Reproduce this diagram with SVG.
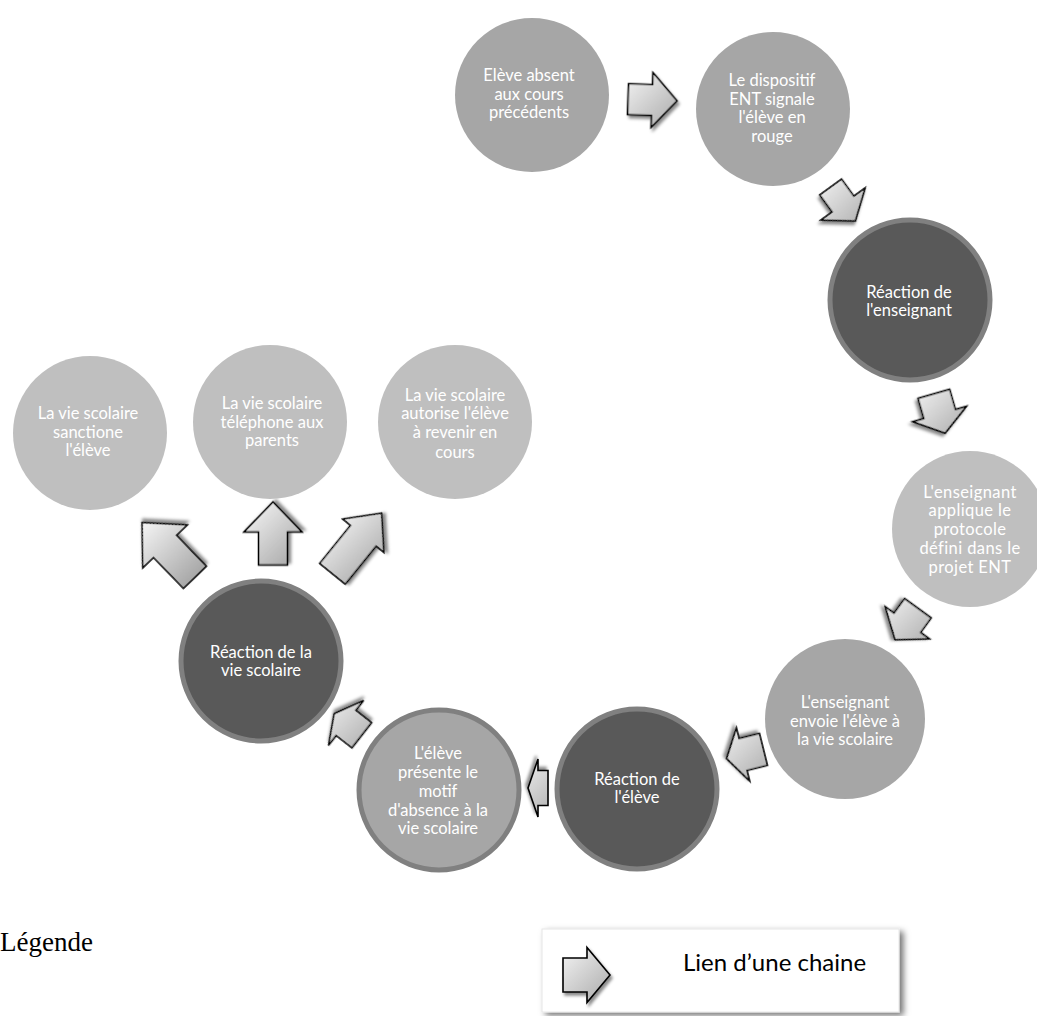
<svg xmlns="http://www.w3.org/2000/svg" width="1037" height="1016" viewBox="0 0 1037 1016">
<style>
.c1{fill:#a6a6a6}
.c2{fill:#bfbfbf}
.cd{fill:#595959;stroke:#808080;stroke-width:5}
.cm{fill:#a6a6a6;stroke:#808080;stroke-width:5}
.t{font-family:Lato,"Liberation Sans",sans-serif;font-size:16.5px;fill:#ffffff;text-anchor:middle}
.arr{stroke:#000;stroke-width:1.6;stroke-linejoin:miter;filter:url(#sh)}
</style>
<defs>
<linearGradient id="g" gradientUnits="userSpaceOnUse" x1="-26" y1="-26" x2="26" y2="26">
<stop offset="0" stop-color="#f4f4f4"/>
<stop offset="1" stop-color="#a9a9a9"/>
</linearGradient>
<linearGradient id="g1" href="#g" gradientTransform="rotate(-2)"/>
<linearGradient id="g2" href="#g" gradientTransform="rotate(-54)"/>
<linearGradient id="g3" href="#g" gradientTransform="rotate(-74)"/>
<linearGradient id="g4" href="#g" gradientTransform="rotate(-126)"/>
<linearGradient id="g5" href="#g" gradientTransform="rotate(-166)"/>
<linearGradient id="g6" href="#g" gradientTransform="rotate(-180)"/>
<linearGradient id="g7" href="#g" gradientTransform="rotate(142)"/>
<linearGradient id="g8" href="#g" gradientTransform="rotate(134)"/>
<linearGradient id="g9" href="#g" gradientTransform="rotate(90)"/>
<linearGradient id="g10" href="#g" gradientTransform="rotate(51)"/>
<filter id="sh" x="-30%" y="-30%" width="160%" height="160%">
<feDropShadow dx="2" dy="3" stdDeviation="1.8" flood-color="#000" flood-opacity="0.45"/>
</filter>
<filter id="bs" x="-10%" y="-20%" width="125%" height="150%">
<feDropShadow dx="4" dy="3" stdDeviation="3" flood-color="#000" flood-opacity="0.55"/>
</filter>
</defs>
<rect width="1037" height="1016" fill="#ffffff"/>

<g id="connectors">
<polygon class="arr" fill="url(#g1)" transform="translate(652.5,100) rotate(2)" points="-24.5,-15.5 -0.5,-15.5 -0.5,-27.5 24.5,0 -0.5,27.5 -0.5,15.5 -24.5,15.5"/>
<polygon class="arr" fill="url(#g2)" transform="translate(843,204) rotate(54)" points="-21,-13.5 0,-13.5 0,-27.5 21,0 0,27.5 0,13.5 -21,13.5"/>
<polygon class="arr" fill="url(#g3)" transform="translate(939.5,413.5) rotate(74)" points="-20.5,-16.5 0.5,-16.5 0.5,-28 20.5,0 0.5,28 0.5,16.5 -20.5,16.5"/>
<polygon class="arr" fill="url(#g4)" transform="translate(906.5,624) rotate(126)" points="-19.5,-16.5 -1.5,-16.5 -1.5,-27.5 19.5,0 -1.5,27.5 -1.5,16.5 -19.5,16.5"/>
<polygon class="arr" fill="url(#g5)" transform="translate(745,754) rotate(166)" points="-19,-16.5 2,-16.5 2,-27.5 19,0 2,27.5 2,16.5 -19,16.5"/>
<polygon class="arr" fill="url(#g6)" transform="translate(538,788) rotate(180)" points="-10,-17.5 0,-17.5 0,-29 10,0 0,29 0,17.5 -10,17.5"/>
<polygon class="arr" fill="url(#g7)" transform="translate(348,724.5) rotate(-142)" points="-17.5,-16 2.5,-16 2.5,-28.5 17.5,0 2.5,28.5 2.5,16 -17.5,16"/>
<polygon class="arr" fill="url(#g8)" transform="translate(168.5,550) rotate(-134)" points="-38,-16 5,-16 5,-31 38,0 5,31 5,16 -38,16"/>
<polygon class="arr" fill="url(#g9)" transform="translate(273,533.5) rotate(-90)" points="-31.5,-14.5 1.5,-14.5 1.5,-29 31.5,0 1.5,29 1.5,14.5 -31.5,14.5"/>
<polygon class="arr" fill="url(#g10)" transform="translate(357,543.5) rotate(-51)" points="-39,-16.5 10,-16.5 10,-26.5 39,0 10,26.5 10,16.5 -39,16.5"/>
</g>

<g id="n1"><circle class="c1" cx="532" cy="95" r="77"/>
<text class="t"><tspan x="529" y="81">Elève absent</tspan><tspan x="529" y="100">aux cours</tspan><tspan x="529" y="118">précédents</tspan></text></g>

<g id="n2"><circle class="c1" cx="773" cy="109" r="77"/>
<text class="t"><tspan x="772" y="86">Le dispositif</tspan><tspan x="772" y="105">ENT signale</tspan><tspan x="772" y="123">l'élève en</tspan><tspan x="772" y="142">rouge</tspan></text></g>

<g id="n3"><circle class="cd" cx="910" cy="300" r="80"/>
<text class="t"><tspan x="909" y="298">Réaction de</tspan><tspan x="909" y="316">l'enseignant</tspan></text></g>

<g id="n4"><circle class="c2" cx="970" cy="529" r="78"/>
<text class="t" letter-spacing="0.4"><tspan x="970" y="498">L'enseignant</tspan><tspan x="970" y="516">applique le</tspan><tspan x="970" y="535">protocole</tspan><tspan x="970" y="554">défini dans le</tspan><tspan x="970" y="573">projet ENT</tspan></text></g>

<g id="n5"><circle class="c1" cx="845" cy="719" r="80"/>
<text class="t"><tspan x="845" y="708">L'enseignant</tspan><tspan x="845" y="727">envoie l'élève à</tspan><tspan x="845" y="745">la vie scolaire</tspan></text></g>

<g id="n6"><circle class="cd" cx="637" cy="789" r="80"/>
<text class="t"><tspan x="637" y="785">Réaction de</tspan><tspan x="637" y="803">l'élève</tspan></text></g>

<g id="n7"><circle class="cm" cx="439" cy="790" r="80"/>
<text class="t"><tspan x="438" y="759">L'élève</tspan><tspan x="438" y="778">présente le</tspan><tspan x="438" y="797">motif</tspan><tspan x="438" y="816">d'absence à la</tspan><tspan x="438" y="834">vie scolaire</tspan></text></g>

<g id="n8"><circle class="cd" cx="261" cy="661" r="80"/>
<text class="t"><tspan x="261" y="658">Réaction de la</tspan><tspan x="261" y="676">vie scolaire</tspan></text></g>

<g id="n9"><circle class="c2" cx="90" cy="433" r="77"/>
<text class="t"><tspan x="88" y="419">La vie scolaire</tspan><tspan x="88" y="438">sanctione</tspan><tspan x="88" y="456">l'élève</tspan></text></g>

<g id="n10"><circle class="c2" cx="270" cy="422" r="77"/>
<text class="t"><tspan x="272" y="409">La vie scolaire</tspan><tspan x="272" y="428">téléphone aux</tspan><tspan x="272" y="446">parents</tspan></text></g>

<g id="n11"><circle class="c2" cx="455" cy="422" r="77"/>
<text class="t"><tspan x="455" y="401">La vie scolaire</tspan><tspan x="455" y="419">autorise l'élève</tspan><tspan x="455" y="438">à revenir en</tspan><tspan x="455" y="458">cours</tspan></text></g>

<g id="legend">
<text x="0" y="951" font-family="'Liberation Serif',serif" font-size="27" fill="#000">Légende</text>
<rect x="542" y="929" width="357" height="83" fill="#ffffff" stroke="#e6e6e6" stroke-width="1" filter="url(#bs)"/>
<polygon class="arr" fill="url(#g)" transform="translate(586.5,975)" points="-23.5,-17 0.5,-17 0.5,-27.5 23.5,0 0.5,27.5 0.5,17 -23.5,17"/>
<text x="683" y="971" font-family="Lato,'Liberation Sans',sans-serif" font-size="24" fill="#000">Lien d’une chaine</text>
</g>
</svg>
